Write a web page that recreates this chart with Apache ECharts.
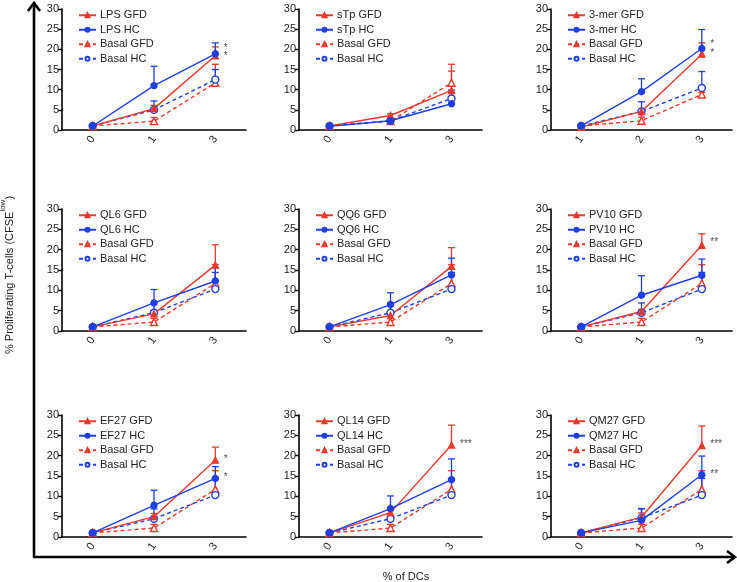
<!DOCTYPE html>
<html>
<head>
<meta charset="utf-8">
<script src="https://cdn.jsdelivr.net/npm/echarts@6/dist/echarts.min.js"></script>
<style>
  html, body { margin: 0; padding: 0; background: #fff; }
  #main { width: 737px; height: 582px; }
</style>
</head>
<body>
<div id="main"></div>
<script>
// panels, left to right, top to bottom
const panelNames = ['LPS', 'sTp', '3-mer', 'QL6', 'QQ6', 'PV10', 'EF27', 'QL14', 'QM27'];
const xLabels = [
  ['0', '1', '3'], ['0', '1', '3'], ['1', '2', '3'],
  ['0', '1', '3'], ['0', '1', '3'], ['0', '1', '3'],
  ['0', '1', '3'], ['0', '1', '3'], ['0', '1', '3']
];
const yTicks = [0, 5, 10, 15, 20, 25, 30];

// stimulated GFD (red, filled triangle)
const stimGFD = [[1, 5.3, 18.4], [1, 3.6, 9.8], [0.7, 4.6, 18.8], [1, 4.2, 16.2], [1, 3.8, 15.9], [1, 4.8, 21.1], [1, 5.0, 18.9], [1, 6.0, 22.6], [1, 4.9, 22.5]];
const stimGFDErr = [[0, 0.8, 2.2], [0, 0.4, 4.8], [0, 0.5, 2.8], [0, 0.9, 5.0], [0, 0.8, 4.6], [0, 0.5, 2.8], [0, 0.8, 3.2], [0, 0.5, 4.9], [0, 1.0, 4.8]];
// stimulated HC (blue, filled circle)
const stimHC = [[1, 11.0, 18.9], [0.9, 2.3, 6.5], [1, 9.5, 20.2], [1, 6.9, 12.3], [1, 6.5, 13.8], [1, 8.8, 13.7], [1, 7.8, 14.4], [1, 7.0, 14.1], [1, 4.1, 15.3]];
const stimHCErr = [[0, 4.8, 2.7], [0, 0.3, 3.4], [0, 3.2, 4.7], [0, 3.3, 3.3], [0, 2.9, 4.1], [0, 4.8, 4.0], [0, 3.7, 2.9], [0, 3.1, 5.1], [0, 2.8, 4.6]];
// basal GFD (red, open triangle, dashed)
const basalGFD = [[1, 2.2, 11.7], [1, 2.2, 11.7], [1, 2.3, 8.8], [1, 2.2, 11.7], [1, 2.2, 11.7], [1, 2.2, 11.7], [1, 2.2, 11.7], [1, 2.2, 11.7], [1, 2.2, 11.7]];
const basalGFDErr = [[0, 0.9, 4.6], [0, 0.3, 4.6], [0, 0.9, 0.5], [0, 0.9, 4.6], [0, 0.9, 4.6], [0, 0.9, 4.6], [0, 0.9, 4.6], [0, 0.9, 4.6], [0, 0.9, 4.6]];
// basal HC (blue, open circle, dashed)
const basalHC = [[1, 5.0, 12.5], [1, 2.3, 7.8], [1, 4.6, 10.4], [1, 4.5, 10.3], [1, 4.5, 10.3], [1, 4.5, 10.3], [1, 4.5, 10.3], [1, 4.5, 10.3], [1, 4.7, 10.3]];
const basalHCErr = [[0, 2.2, 2.5], [0, 0.3, 1.5], [0, 2.4, 4.1], [0, 2.4, 4.1], [0, 2.4, 4.1], [0, 2.4, 4.1], [0, 2.4, 4.1], [0, 2.4, 4.1], [0, 2.3, 4.1]];

// significance marks
const sigPanel = [0, 0, 2, 2, 5, 6, 6, 7, 8, 8];
const sigCat = [2, 2, 2, 2, 2, 2, 2, 2, 2, 2];
const sigValue = [20.3, 18.2, 21.3, 19.0, 21.8, 19.0, 14.6, 22.8, 22.9, 15.5];
const sigText = ['*', '*', '*', '*', '**', '*', '*', '***', '***', '**'];

const RED = '#e8392a';
const BLUE = '#1f3fe0';
const FONT = 'Liberation Sans, Arial, sans-serif';

const colLeft = [62, 299, 551];
const colWidth = [184, 183, 181];
const rowTop = [9, 209, 415];
const rowHeight = [121, 122, 122];

const chart = echarts.init(document.getElementById('main'));

const grid = [], xAxis = [], yAxis = [], legend = [], series = [];

function errorBars(p, vals, errs, color) {
  const data = [];
  vals.forEach((v, i) => {
    if (errs[i] > 0) data.push([i, v, v + errs[i]]);
  });
  return {
    type: 'custom',
    xAxisIndex: p, yAxisIndex: p,
    silent: true,
    clip: false,
    z: 3,
    data: data,
    renderItem: function (params, api) {
      const a = api.coord([api.value(0), api.value(1)]);
      const b = api.coord([api.value(0), api.value(2)]);
      const style = { stroke: color, lineWidth: 1.3, fill: null };
      return {
        type: 'group',
        children: [
          { type: 'line', shape: { x1: a[0], y1: a[1], x2: b[0], y2: b[1] }, style: style },
          { type: 'line', shape: { x1: b[0] - 3.5, y1: b[1], x2: b[0] + 3.5, y2: b[1] }, style: style }
        ]
      };
    }
  };
}

function lineSeries(p, name, vals, color, symbol, size, dashed, filled) {
  return {
    type: 'line',
    name: name,
    xAxisIndex: p, yAxisIndex: p,
    data: vals,
    symbol: symbol,
    symbolSize: size,
    showAllSymbol: true,
    z: 4,
    lineStyle: { color: color, width: 1.4, type: dashed ? [4, 3] : 'solid' },
    itemStyle: { color: filled ? color : '#fff', borderColor: color, borderWidth: 1.4 },
    emphasis: { disabled: true },
    animation: false
  };
}

for (let p = 0; p < 9; p++) {
  const r = Math.floor(p / 3), c = p % 3;
  grid.push({ left: colLeft[c], top: rowTop[r], width: colWidth[c], height: rowHeight[r] });
  xAxis.push({
    type: 'category', gridIndex: p, data: xLabels[p], boundaryGap: true,
    axisLine: { lineStyle: { color: '#000', width: 1.6 } },
    axisTick: { alignWithLabel: true, length: 4, lineStyle: { color: '#000', width: 1.4 } },
    axisLabel: { rotate: 55, fontSize: 11, color: '#222', fontFamily: FONT, margin: 7 },
    splitLine: { show: false }
  });
  yAxis.push({
    type: 'value', gridIndex: p, min: yTicks[0], max: yTicks[yTicks.length - 1], interval: 5,
    axisLine: { show: true, lineStyle: { color: '#000', width: 1.6 } },
    axisTick: { show: true, length: 4, lineStyle: { color: '#000', width: 1.4 } },
    axisLabel: { fontSize: 11, color: '#222', fontFamily: FONT, margin: 3 },
    splitLine: { show: false }
  });

  const nGFD = panelNames[p] + ' GFD', nHC = panelNames[p] + ' HC';
  legend.push({
    orient: 'vertical',
    left: colLeft[c] + 11, top: rowTop[r] - 5,
    itemWidth: 17, itemHeight: 5, itemGap: 2,
    selectedMode: false,
    textStyle: { fontSize: 11, color: '#222', fontFamily: FONT, lineHeight: 12.5, padding: [0, 0, 0, -1] },
    data: [nGFD, nHC, 'Basal GFD', 'Basal HC']
  });

  series.push(lineSeries(p, 'Basal GFD', basalGFD[p], RED, 'triangle', 7, true, false));
  series.push(lineSeries(p, 'Basal HC', basalHC[p], BLUE, 'circle', 7, true, false));
  series.push(lineSeries(p, nGFD, stimGFD[p], RED, 'triangle', 6, false, true));
  series.push(lineSeries(p, nHC, stimHC[p], BLUE, 'circle', 6, false, true));
  series.push(errorBars(p, basalGFD[p], basalGFDErr[p], RED));
  series.push(errorBars(p, basalHC[p], basalHCErr[p], BLUE));
  series.push(errorBars(p, stimGFD[p], stimGFDErr[p], RED));
  series.push(errorBars(p, stimHC[p], stimHCErr[p], BLUE));

  const stars = [];
  sigPanel.forEach((sp, i) => {
    if (sp === p) stars.push({ value: [sigCat[i], sigValue[i]], label: { formatter: sigText[i] } });
  });
  if (stars.length) {
    series.push({
      type: 'scatter', xAxisIndex: p, yAxisIndex: p, silent: true,
      symbolSize: 1, itemStyle: { color: 'rgba(0,0,0,0)' },
      label: { show: true, position: 'right', distance: 8, fontSize: 10, color: '#222', fontFamily: FONT },
      data: stars
    });
  }
}

const option = {
  animation: false,
  backgroundColor: '#fff',
  grid: grid, xAxis: xAxis, yAxis: yAxis, legend: legend, series: series,
  graphic: [
    { type: 'line', shape: { x1: 34, y1: 4, x2: 34, y2: 557 }, style: { stroke: '#000', lineWidth: 2.6 } },
    { type: 'polyline', shape: { points: [[28, 11], [34, 3], [40, 11]] }, style: { stroke: '#000', lineWidth: 2.6, fill: null } },
    { type: 'line', shape: { x1: 33, y1: 557, x2: 734, y2: 557 }, style: { stroke: '#000', lineWidth: 2.6 } },
    { type: 'polyline', shape: { points: [[727, 551], [735, 557], [727, 563]] }, style: { stroke: '#000', lineWidth: 2.6, fill: null } },
    {
      type: 'text', x: 7, y: 275, rotation: Math.PI / 2,
      style: {
        text: '{b|% Proliferating T-cells (CFSE}{s|low}{b|)}',
        align: 'center', verticalAlign: 'middle',
        rich: {
          b: { fontSize: 11, fontFamily: FONT, fill: '#222', lineHeight: 16, verticalAlign: 'bottom' },
          s: { fontSize: 8, fontFamily: FONT, fill: '#222', lineHeight: 16, verticalAlign: 'top' }
        }
      }
    },
    {
      type: 'text', x: 406, y: 577,
      style: { text: '% of DCs', fontSize: 11, fontFamily: FONT, fill: '#222', align: 'center', verticalAlign: 'middle' }
    }
  ]
};

chart.setOption(option);
</script>
</body>
</html>
